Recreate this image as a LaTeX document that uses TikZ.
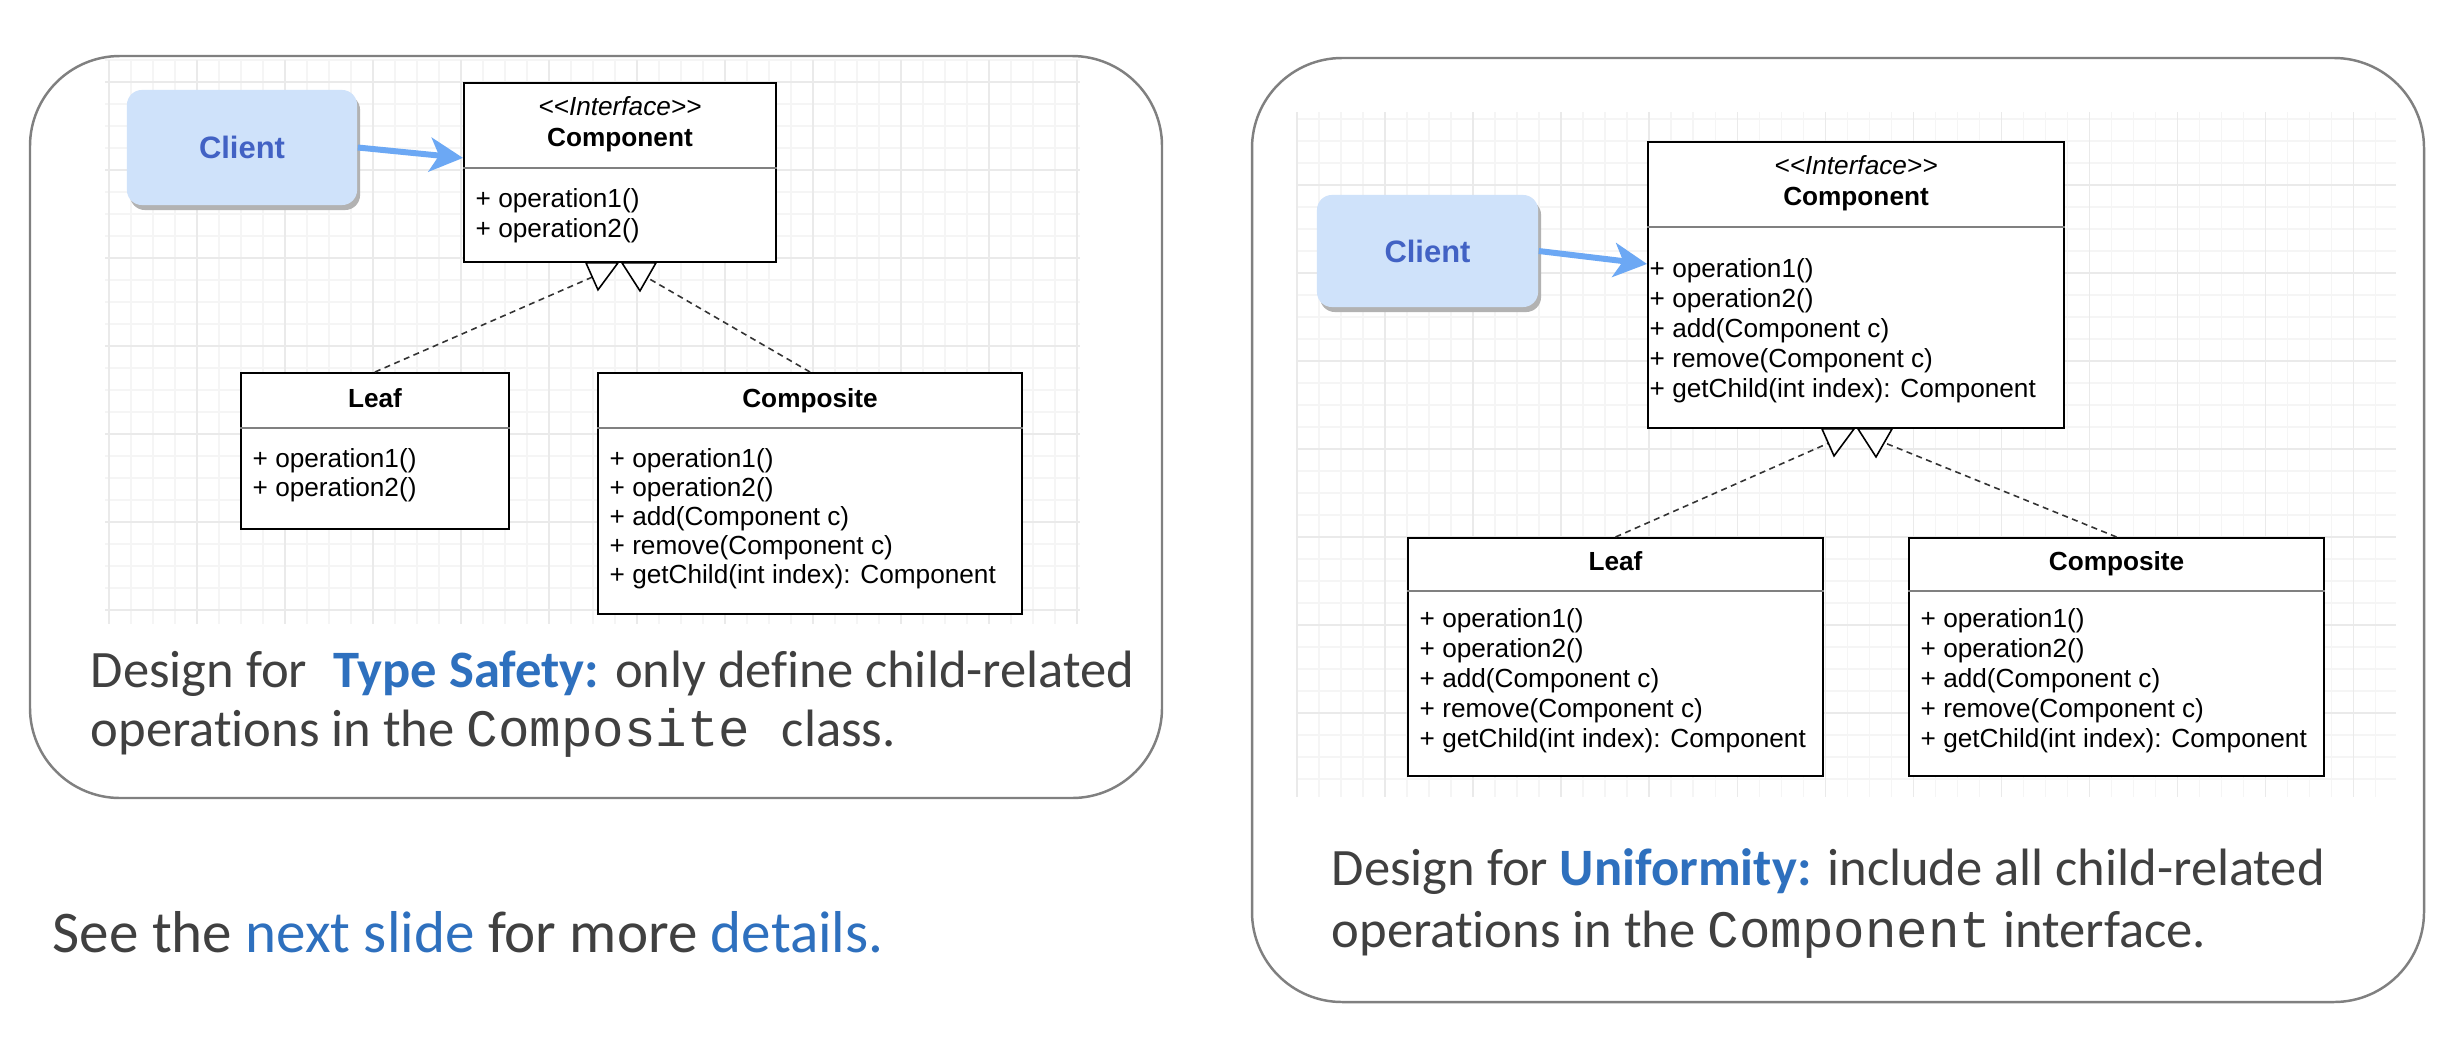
\documentclass[tikz,border=0pt]{standalone}
\usepackage{fontspec}
\setmainfont{Carlito}[Ligatures=NoCommon]
\setmonofont{Liberation Mono}
\newfontfamily\umlfont{Liberation Sans}
\usetikzlibrary{positioning,calc,arrows.meta,shadows}

\definecolor{slidegray}{RGB}{64,64,64}
\definecolor{slideblue}{RGB}{46,112,190}
\definecolor{clientfill}{RGB}{207,226,250}
\definecolor{clienttext}{RGB}{66,98,196}
\definecolor{usesblue}{RGB}{108,168,244}
\definecolor{gridminor}{RGB}{245,245,245}
\definecolor{gridmajor}{RGB}{234,234,234}
\definecolor{panelline}{RGB}{128,128,128}

\begin{document}
\begin{tikzpicture}[x=0.01cm, y=-0.01cm,
  panel/.style={draw=panelline, line width=0.7pt, rounded corners=0.9cm},
  gridthin/.style={draw=gridminor, line width=0.3pt},
  gridthick/.style={draw=gridmajor, line width=0.3pt},
  client/.style={rectangle, rounded corners=0.15cm, fill=clientfill, text=clienttext,
    font=\umlfont\bfseries\fontsize{8.8}{10}\selectfont,
    drop shadow={shadow xshift=0.03cm, shadow yshift=-0.05cm, fill=black!30, opacity=1}},
  umlbox/.style={draw=black, line width=0.5pt, fill=white, anchor=north west, inner sep=0pt},
  umltitle/.style={anchor=base, inner sep=0pt, font=\umlfont\bfseries\fontsize{7.45}{9}\selectfont},
  umlstereo/.style={anchor=base, inner sep=0pt, font=\umlfont\itshape\fontsize{7.45}{9}\selectfont},
  umlop/.style={anchor=base west, inner sep=0pt, font=\umlfont\fontsize{7.45}{9}\selectfont},
  sepline/.style={draw=black!50, line width=0.4pt},
  uses/.style={draw=usesblue, line width=1.7pt, -{Stealth[length=0.33cm, width=0.34cm, inset=0.09cm]}},
  realize/.style={draw=black!80, line width=0.45pt, dash pattern=on 0.06cm off 0.045cm},
  realizehead/.style={draw=black, fill=white, line width=0.45pt},
  slidetext/.style={anchor=base west, inner sep=0pt, text=slidegray, font=\fontsize{14.95}{17}\selectfont},
]
\useasboundingbox[fill=white] (0,0) rectangle (2464,1036);

% panels
\draw[panel] (30,56) rectangle (1162,798);
\draw[panel] (1252,58) rectangle (2424,1002);

% grid, left
\foreach \gx in {109,131,...,1080} \draw[gridthin] (\gx,60) -- (\gx,624);
\foreach \gy in {60,82,...,624} \draw[gridthin] (105,\gy) -- (1080,\gy);
\foreach \gx in {109,197,...,1080} \draw[gridthick] (\gx,60) -- (\gx,624);
\foreach \gy in {82,170,...,624} \draw[gridthick] (105,\gy) -- (1080,\gy);
% grid, right
\foreach \gx in {1297,1319,...,2396} \draw[gridthin] (\gx,112) -- (\gx,797);
\foreach \gy in {119,141,...,797} \draw[gridthin] (1297,\gy) -- (2396,\gy);
\foreach \gx in {1297,1385,...,2396} \draw[gridthick] (\gx,112) -- (\gx,797);
\foreach \gy in {185,273,...,797} \draw[gridthick] (1297,\gy) -- (2396,\gy);

% type safety
\node[client, minimum width=2.30cm, minimum height=1.15cm] (clientL) at (242,147.5) {Client};
\node[umlbox, minimum width=3.12cm, minimum height=1.79cm] (cmpL) at (463,82) {};
\node[umlbox, minimum width=2.68cm, minimum height=1.56cm] (leafL) at (240,372) {};
\node[umlbox, minimum width=4.24cm, minimum height=2.41cm] (cpsL) at (597,372) {};

\node[umlstereo] (cmpLst) at ($(cmpL.north)+(0,33)$) {\textless\textless Interface\textgreater\textgreater};
\node[umltitle] (cmpLname) at ($(cmpL.north)+(0,64)$) {Component};
\draw[sepline] ($(cmpL.north west)+(0,86)$) -- ($(cmpL.north east)+(0,86)$);
\foreach \op [count=\i] in {operation1(),operation2()}
  \node[umlop] (cmpLop\i) at ($(cmpL.north west)+(12,{125+30*(\i-1)})$) {+ \op};

\node[umltitle] (leafLname) at ($(leafL.north)+(0,35)$) {Leaf};
\draw[sepline] ($(leafL.north west)+(0,56)$) -- ($(leafL.north east)+(0,56)$);
\foreach \op [count=\i] in {operation1(),operation2()}
  \node[umlop] (leafLop\i) at ($(leafL.north west)+(12,{95+29*(\i-1)})$) {+ \op};

\node[umltitle] (cpsLname) at ($(cpsL.north)+(0,35)$) {Composite};
\draw[sepline] ($(cpsL.north west)+(0,56)$) -- ($(cpsL.north east)+(0,56)$);
\foreach \op [count=\i] in {operation1(),operation2(),add(Component c),remove(Component c),getChild(int index): Component}
  \node[umlop] (cpsLop\i) at ($(cpsL.north west)+(12,{95+29*(\i-1)})$) {+ \op};

\draw[uses] (clientL.east) -- ([yshift=0.145cm]cmpL.west);
\coordinate (hubL1) at ($(cmpL.south)+(-18,10)$);
\coordinate (hubL2) at ($(cmpL.south)+(19,10)$);
\draw[realize] (leafL.north) -- (hubL1);
\draw[realize] (cpsL.north) -- (hubL2);
\draw[realizehead] ($(cmpL.south)+(-34,0)$) -- ($(cmpL.south)+(-22,27)$) -- ($(cmpL.south)+(-2,0)$) -- cycle;
\draw[realizehead] ($(cmpL.south)+(2,0)$) -- ($(cmpL.south)+(20,28)$) -- ($(cmpL.south)+(36,0)$) -- cycle;

\node[slidetext] (safeA) at (90,687) {Design for\hspace{0.5em}\textcolor{slideblue}{\textbf{Type Safety:}} only define child-related};
\node[slidetext] (safeB) at (90,746) {operations in the \texttt{Composite }class.};

% uniformity
\node[client, minimum width=2.21cm, minimum height=1.12cm] (clientR) at (1427.5,251) {Client};
\node[umlbox, minimum width=4.16cm, minimum height=2.86cm] (cmpR) at (1647,141) {};
\node[umlbox, minimum width=4.15cm, minimum height=2.38cm] (leafR) at (1407,537) {};
\node[umlbox, minimum width=4.15cm, minimum height=2.38cm] (cpsR) at (1908,537) {};

\node[umlstereo] (cmpRst) at ($(cmpR.north)+(0,33)$) {\textless\textless Interface\textgreater\textgreater};
\node[umltitle] (cmpRname) at ($(cmpR.north)+(0,64)$) {Component};
\draw[sepline] ($(cmpR.north west)+(0,86)$) -- ($(cmpR.north east)+(0,86)$);
\foreach \op [count=\i] in {operation1(),operation2(),add(Component c),remove(Component c),getChild(int index): Component}
  \node[umlop] (cmpRop\i) at ($(cmpR.north west)+(2,{136+30*(\i-1)})$) {+ \op};

\node[umltitle] (leafRname) at ($(leafR.north)+(0,33)$) {Leaf};
\draw[sepline] ($(leafR.north west)+(0,54)$) -- ($(leafR.north east)+(0,54)$);
\foreach \op [count=\i] in {operation1(),operation2(),add(Component c),remove(Component c),getChild(int index): Component}
  \node[umlop] (leafRop\i) at ($(leafR.north west)+(12,{90+30*(\i-1)})$) {+ \op};

\node[umltitle] (cpsRname) at ($(cpsR.north)+(0,33)$) {Composite};
\draw[sepline] ($(cpsR.north west)+(0,54)$) -- ($(cpsR.north east)+(0,54)$);
\foreach \op [count=\i] in {operation1(),operation2(),add(Component c),remove(Component c),getChild(int index): Component}
  \node[umlop] (cpsRop\i) at ($(cpsR.north west)+(12,{90+30*(\i-1)})$) {+ \op};

\draw[uses] (clientR.east) -- ([yshift=0.21cm]cmpR.west);
\coordinate (hubR1) at ($(cmpR.south)+(-18,10)$);
\coordinate (hubR2) at ($(cmpR.south)+(19,10)$);
\draw[realize] (leafR.north) -- (hubR1);
\draw[realize] (cpsR.north) -- (hubR2);
\draw[realizehead] ($(cmpR.south)+(-34,0)$) -- ($(cmpR.south)+(-22,27)$) -- ($(cmpR.south)+(-2,0)$) -- cycle;
\draw[realizehead] ($(cmpR.south)+(2,0)$) -- ($(cmpR.south)+(20,28)$) -- ($(cmpR.south)+(36,0)$) -- cycle;

\node[slidetext] (uniA) at (1331,885) {Design for \textcolor{slideblue}{\textbf{Uniformity:}} include all child-related};
\node[slidetext] (uniB) at (1331,947) {operations in the \texttt{Component} interface.};

% footnote line
\node[slidetext, font=\fontsize{16.8}{20}\selectfont] (seeNext) at (52,952) {See the \textcolor{slideblue}{next slide} for more \textcolor{slideblue}{details.}};
\end{tikzpicture}
\end{document}
